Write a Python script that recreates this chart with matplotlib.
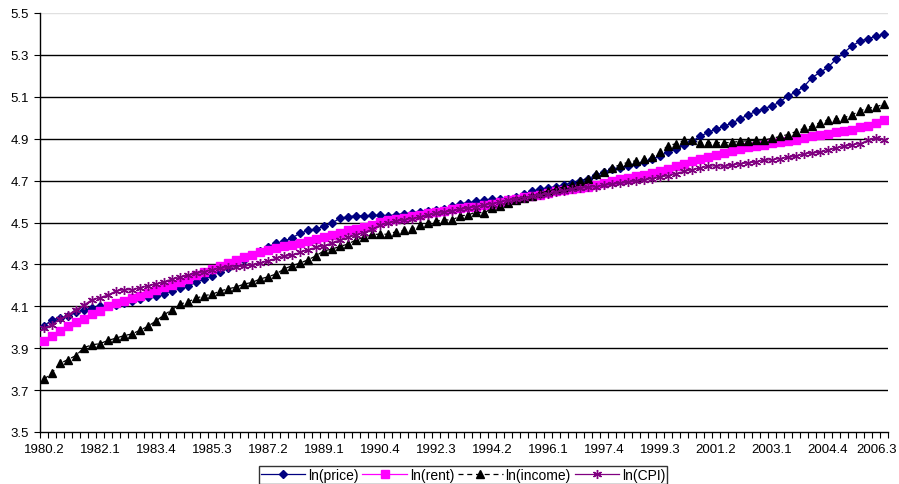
import numpy as np
import matplotlib

matplotlib.use("Agg")
import matplotlib.pyplot as plt
from matplotlib.transforms import ScaledTranslation

plt.rcParams["font.family"] = ["Liberation Sans", "DejaVu Sans"]

# quarterly categories 1980.2 ... 2006.3
quarters = [f"{y}.{q}" for y in range(1980, 2007) for q in range(1, 5)][1:-1]

ln_price = [
    4.006, 4.036, 4.044, 4.052, 4.071, 4.082, 4.090, 4.100, 4.103, 4.106,
    4.114, 4.127, 4.135, 4.143, 4.148, 4.160, 4.174, 4.186, 4.197, 4.214,
    4.230, 4.246, 4.265, 4.283, 4.300, 4.322, 4.345, 4.365, 4.385, 4.400,
    4.410, 4.427, 4.448, 4.462, 4.469, 4.482, 4.498, 4.520, 4.528, 4.532,
    4.532, 4.534, 4.534, 4.531, 4.537, 4.542, 4.545, 4.552, 4.555, 4.558,
    4.564, 4.577, 4.589, 4.594, 4.602, 4.606, 4.610, 4.611, 4.614, 4.624,
    4.635, 4.649, 4.659, 4.665, 4.671, 4.679, 4.690, 4.700, 4.710, 4.725,
    4.740, 4.754, 4.762, 4.770, 4.780, 4.790, 4.805, 4.817, 4.836, 4.851,
    4.870, 4.887, 4.911, 4.930, 4.946, 4.959, 4.975, 4.994, 5.014, 5.030,
    5.044, 5.057, 5.075, 5.105, 5.122, 5.149, 5.192, 5.216, 5.241, 5.279,
    5.311, 5.343, 5.365, 5.378, 5.389, 5.398,
]
ln_rent = [
    3.932, 3.957, 3.983, 4.005, 4.024, 4.040, 4.062, 4.079, 4.100, 4.116,
    4.127, 4.138, 4.151, 4.162, 4.178, 4.190, 4.202, 4.217, 4.230, 4.249,
    4.262, 4.278, 4.294, 4.306, 4.321, 4.336, 4.344, 4.357, 4.368, 4.378,
    4.386, 4.394, 4.402, 4.411, 4.421, 4.429, 4.440, 4.452, 4.462, 4.468,
    4.478, 4.490, 4.503, 4.511, 4.516, 4.522, 4.530, 4.538, 4.543, 4.548,
    4.554, 4.563, 4.568, 4.573, 4.576, 4.583, 4.590, 4.598, 4.608, 4.614,
    4.621, 4.627, 4.632, 4.640, 4.648, 4.656, 4.662, 4.667, 4.671, 4.678,
    4.687, 4.698, 4.706, 4.713, 4.722, 4.729, 4.737, 4.745, 4.756, 4.768,
    4.781, 4.792, 4.803, 4.813, 4.824, 4.832, 4.843, 4.851, 4.860, 4.867,
    4.871, 4.878, 4.884, 4.889, 4.895, 4.903, 4.911, 4.917, 4.924, 4.930,
    4.937, 4.943, 4.954, 4.962, 4.975, 4.987,
]
ln_income = [
    3.751, 3.783, 3.827, 3.846, 3.865, 3.903, 3.916, 3.922, 3.937, 3.948,
    3.960, 3.968, 3.986, 4.005, 4.030, 4.059, 4.084, 4.110, 4.122, 4.138,
    4.151, 4.157, 4.173, 4.183, 4.192, 4.206, 4.214, 4.230, 4.241, 4.254,
    4.278, 4.294, 4.306, 4.322, 4.341, 4.365, 4.373, 4.386, 4.397, 4.417,
    4.429, 4.443, 4.444, 4.444, 4.456, 4.462, 4.468, 4.487, 4.500, 4.506,
    4.513, 4.511, 4.532, 4.535, 4.551, 4.544, 4.570, 4.579, 4.595, 4.608,
    4.617, 4.627, 4.640, 4.651, 4.659, 4.671, 4.681, 4.697, 4.710, 4.730,
    4.742, 4.760, 4.776, 4.787, 4.795, 4.802, 4.811, 4.835, 4.867, 4.876,
    4.892, 4.895, 4.881, 4.881, 4.881, 4.881, 4.882, 4.888, 4.890, 4.892,
    4.895, 4.901, 4.911, 4.920, 4.934, 4.950, 4.960, 4.977, 4.990, 4.994,
    5.000, 5.014, 5.033, 5.046, 5.052, 5.065,
]
ln_cpi = [
    3.995, 4.011, 4.040, 4.059, 4.084, 4.106, 4.132, 4.141, 4.154, 4.173,
    4.179, 4.179, 4.189, 4.198, 4.206, 4.217, 4.230, 4.238, 4.249, 4.259,
    4.265, 4.275, 4.281, 4.286, 4.288, 4.292, 4.297, 4.306, 4.316, 4.329,
    4.338, 4.344, 4.357, 4.370, 4.381, 4.389, 4.402, 4.417, 4.429, 4.440,
    4.452, 4.468, 4.487, 4.497, 4.506, 4.513, 4.519, 4.525, 4.535, 4.543,
    4.548, 4.556, 4.563, 4.570, 4.575, 4.583, 4.590, 4.598, 4.606, 4.613,
    4.619, 4.625, 4.630, 4.637, 4.644, 4.652, 4.659, 4.663, 4.668, 4.671,
    4.678, 4.683, 4.687, 4.692, 4.697, 4.703, 4.710, 4.716, 4.724, 4.733,
    4.744, 4.752, 4.760, 4.768, 4.771, 4.768, 4.773, 4.781, 4.784, 4.789,
    4.797, 4.800, 4.805, 4.811, 4.816, 4.827, 4.832, 4.835, 4.844, 4.856,
    4.863, 4.871, 4.876, 4.892, 4.903, 4.895,
]

y_ticks = [3.5, 3.7, 3.9, 4.1, 4.3, 4.5, 4.7, 4.9, 5.1, 5.3, 5.5]

fig = plt.figure(figsize=(8.99, 4.85), dpi=100)
ax = fig.add_axes([40 / 899, 1 - 433 / 485, 848 / 899, 419 / 485])

x = np.arange(len(quarters))

# horizontal gridlines (top one is faint in the original)
for yv in y_ticks[1:-1]:
    ax.axhline(yv, color="black", lw=1.0, zorder=1)
ax.axhline(y_ticks[-1], color="#e0e0e0", lw=1.0, zorder=1)

ax.plot(x, ln_price, color="#000080", lw=0.9, marker="D", ms=4.5,
        mec="#000080", mfc="#000080", label="ln(price)", zorder=3)
ax.plot(x, ln_rent, color="#FF00FF", lw=0.9, marker="s", ms=5.3,
        mec="#FF00FF", mfc="#FF00FF", label="ln(rent)", zorder=3)
ax.plot(x, ln_income, color="black", lw=0.9, ls=(0, (4, 3)), marker="^", ms=5.8,
        mec="black", mfc="black", label="ln(income)", zorder=3)
ax.plot(x, ln_cpi, color="#800080", lw=0.9, marker=(6, 2, 0), ms=6.5,
        mec="#800080", mew=1.0, label="ln(CPI)", zorder=3)

ax.set_xlim(-0.5, len(quarters) - 0.5)
ax.set_ylim(3.5, 5.5)
ax.set_yticks(y_ticks)
ax.set_yticklabels([f"{v:.1f}" for v in y_ticks])

ax.set_xticks(x[::7])
ax.set_xticklabels(quarters[::7])
ax.set_xticks(np.arange(len(quarters) + 1) - 0.5, minor=True)
ax.tick_params(axis="x", which="major", length=0, pad=8, labelsize=9.5)
ax.tick_params(axis="x", which="minor", length=4, width=0.8, direction="out")
ax.tick_params(axis="y", length=4, width=0.8, direction="out", labelsize=9.5, pad=4)

# last label pulled inward so it fits, as in the original
last = ax.get_xticklabels()[-1]
last.set_transform(last.get_transform() + ScaledTranslation(-0.07, 0, fig.dpi_scale_trans))

for s in ["top", "right"]:
    ax.spines[s].set_visible(False)
for s in ["left", "bottom"]:
    ax.spines[s].set_color("black")
    ax.spines[s].set_linewidth(1.0)

leg = fig.legend(
    loc="center",
    bbox_to_anchor=(463 / 899, 1 - 476 / 485),
    ncol=4,
    fontsize=10,
    frameon=True,
    fancybox=False,
    edgecolor="black",
    handlelength=3.2,
    columnspacing=0.3,
    handletextpad=0.2,
    borderpad=0.12,
    borderaxespad=0,
)
leg.get_frame().set_linewidth(1.0)

fig.savefig("out.png", dpi=100)
